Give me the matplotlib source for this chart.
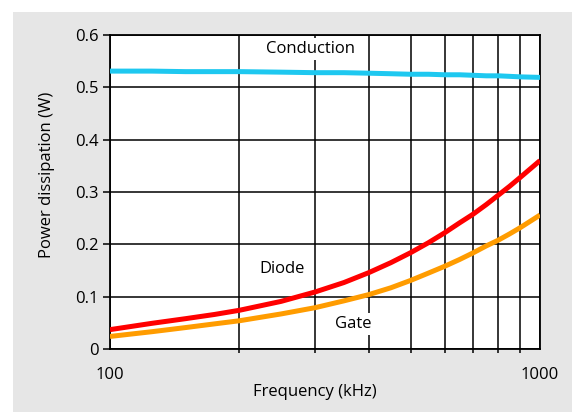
import matplotlib
matplotlib.use("Agg")
import matplotlib.pyplot as plt
from matplotlib.patches import Rectangle
from matplotlib.ticker import FixedLocator, NullFormatter, FixedFormatter

freq = [100, 125, 150, 175, 200, 250, 300, 350, 400, 450, 500, 550, 600, 650,
        700, 750, 800, 850, 900, 1000]
conduction = [0.531, 0.531, 0.530, 0.530, 0.530, 0.529, 0.528, 0.528, 0.527, 0.526,
              0.525, 0.525, 0.524, 0.524, 0.523, 0.522, 0.522, 0.521, 0.520, 0.519]
diode = [0.037, 0.049, 0.058, 0.066, 0.074, 0.091, 0.109, 0.127, 0.146, 0.165,
         0.184, 0.203, 0.222, 0.241, 0.258, 0.276, 0.294, 0.311, 0.328, 0.360]
gate = [0.024, 0.033, 0.041, 0.048, 0.054, 0.067, 0.079, 0.092, 0.104, 0.117,
        0.131, 0.145, 0.158, 0.171, 0.184, 0.197, 0.208, 0.220, 0.232, 0.256]

y_ticks = [0, 0.1, 0.2, 0.3, 0.4, 0.5, 0.6]
y_labels = ["0", "0.1", "0.2", "0.3", "0.4", "0.5", "0.6"]
x_major = [100, 1000]
x_labels = ["100", "1000"]
x_minor = [200, 300, 400, 500, 600, 700, 800, 900]

plt.rcParams['font.family'] = ['Open Sans', 'DejaVu Sans']

fig = plt.figure(figsize=(5.83, 4.12), dpi=100)
fig.patch.set_facecolor('white')
fig.patches.append(Rectangle((13/583, 0), (572-13)/583, (412-12)/412,
                             transform=fig.transFigure, facecolor='#e6e6e6',
                             edgecolor='none', zorder=-10))

ax = fig.add_axes([110/583, 63/412, 430/583, 314/412])
ax.set_zorder(1)
ax.set_facecolor('white')
ax.set_xscale('log')
ax.set_xlim(100, 1000)
ax.set_ylim(0, 0.6)

ax.plot(freq, conduction, color='#1ec8f0', lw=3.6, solid_capstyle='butt',
        solid_joinstyle='round', zorder=3)
ax.plot(freq, diode, color='#ff0000', lw=3.6, solid_capstyle='butt',
        solid_joinstyle='round', zorder=3)
ax.plot(freq, gate, color='#ff9c00', lw=3.6, solid_capstyle='butt',
        solid_joinstyle='round', zorder=3)

ax.xaxis.set_major_locator(FixedLocator(x_major))
ax.xaxis.set_major_formatter(FixedFormatter(x_labels))
ax.xaxis.set_minor_locator(FixedLocator(x_minor))
ax.xaxis.set_minor_formatter(NullFormatter())
ax.set_yticks(y_ticks)
ax.set_yticklabels(y_labels)

ax.grid(True, which='both', axis='x', color='black', lw=1.1, zorder=1)
ax.grid(True, which='major', axis='y', color='black', lw=1.1, zorder=1)
ax.set_axisbelow(True)

ax.tick_params(axis='both', which='both', direction='out', color='black', width=1.1,
               labelsize=12, labelcolor='black')
ax.tick_params(axis='x', which='major', length=0, pad=13)
ax.tick_params(axis='x', which='minor', length=3)
ax.tick_params(axis='y', which='major', length=5, pad=3)
for s in ax.spines.values():
    s.set_color('black')
    s.set_linewidth(1.3)

ax.set_xlabel('Frequency (kHz)', fontsize=12)
ax.xaxis.set_label_coords(0.476, -0.112)
ax.set_ylabel('Power dissipation (W)', fontsize=12)
ax.yaxis.set_label_coords(-0.128, 0.554)

bbox = dict(facecolor='white', edgecolor='none', pad=2)
ax.text(292, 0.573, 'Conduction', ha='center', va='center', fontsize=12, bbox=bbox, zorder=2)
ax.text(251, 0.153, 'Diode', ha='center', va='center', fontsize=12, bbox=bbox, zorder=2)
ax.text(367, 0.048, 'Gate', ha='center', va='center', fontsize=12, bbox=bbox, zorder=2)

fig.savefig('out.png', dpi=100)
